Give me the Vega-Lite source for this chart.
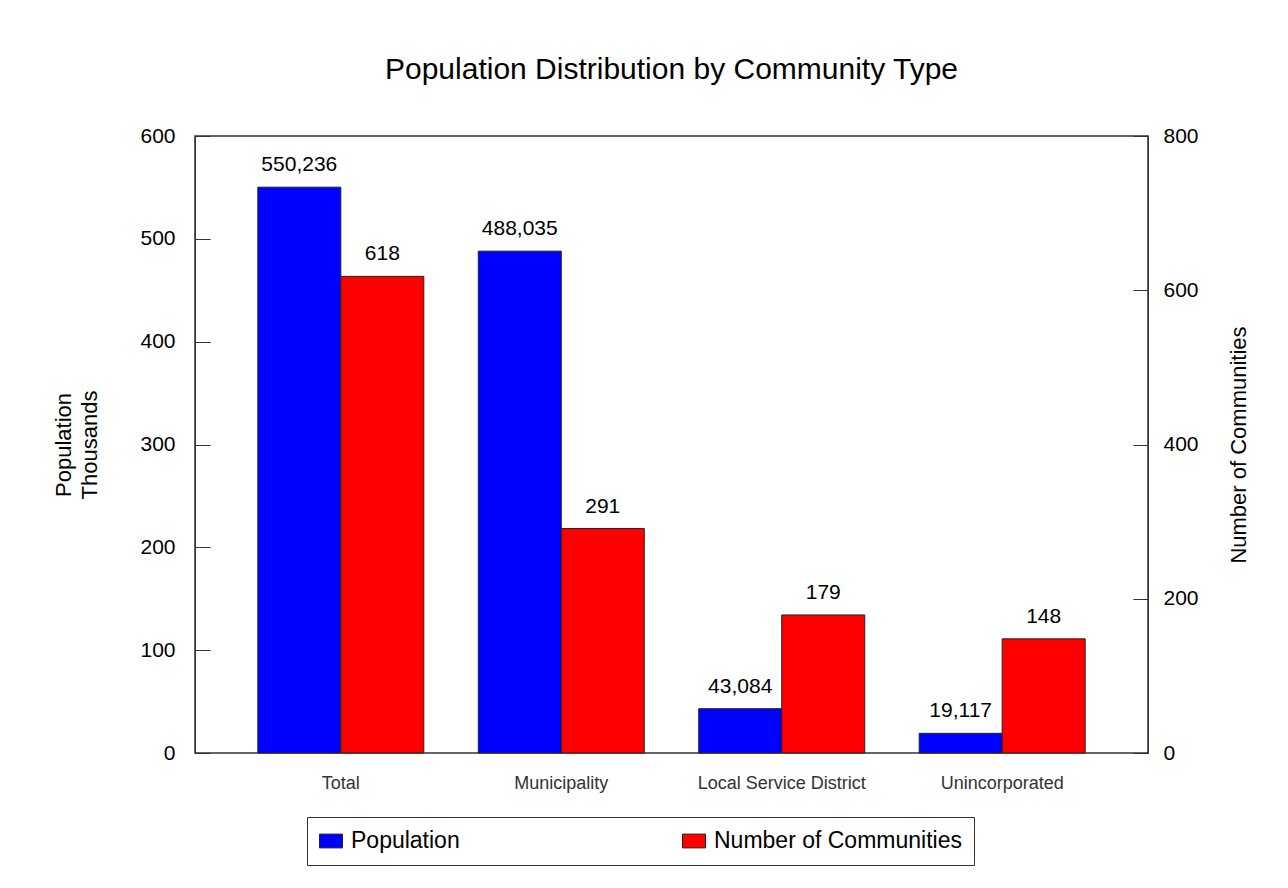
{
  "$schema": "https://vega.github.io/schema/vega-lite/v6.json",
  "width": 953,
  "height": 617,
  "autosize": "none",
  "padding": {"left": 195, "top": 136, "right": 140, "bottom": 135},
  "background": "white",
  "title": {
    "text": "Population Distribution by Community Type",
    "font": "Liberation Sans",
    "fontSize": 30,
    "fontWeight": "normal",
    "color": "black",
    "offset": 40
  },
  "config": {
    "view": {"stroke": "#333", "strokeWidth": 1.5},
    "font": "Liberation Sans"
  },
  "data": {
    "values": [
      {"category": "Total", "series": "Population", "value": 550236},
      {"category": "Municipality", "series": "Population", "value": 488035},
      {"category": "Local Service District", "series": "Population", "value": 43084},
      {"category": "Unincorporated", "series": "Population", "value": 19117},
      {"category": "Total", "series": "Number of Communities", "value": 618},
      {"category": "Municipality", "series": "Number of Communities", "value": 291},
      {"category": "Local Service District", "series": "Number of Communities", "value": 179},
      {"category": "Unincorporated", "series": "Number of Communities", "value": 148}
    ]
  },
  "encoding": {
    "x": {
      "field": "category",
      "type": "nominal",
      "sort": ["Total", "Municipality", "Local Service District", "Unincorporated"],
      "scale": {"paddingInner": 0.247, "paddingOuter": 0.285},
      "axis": {
        "title": null,
        "labelAngle": 0,
        "ticks": false,
        "domain": false,
        "labelFontSize": 18,
        "labelColor": "#333",
        "labelPadding": 21,
        "labelFont": "Liberation Sans"
      }
    },
    "xOffset": {
      "field": "series",
      "type": "nominal",
      "scale": {"domain": ["Population", "Number of Communities"]}
    }
  },
  "layer": [
    {
      "transform": [{"filter": "datum.series === 'Population'"}],
      "encoding": {
        "y": {
          "field": "value",
          "type": "quantitative",
          "scale": {"domain": [0, 600000]},
          "axis": {
            "orient": "left",
            "values": [0, 100000, 200000, 300000, 400000, 500000, 600000],
            "labelExpr": "format(datum.value / 1000, 'd')",
            "grid": false,
            "tickSize": -15,
            "tickColor": "#333",
            "domainColor": "#333",
            "labelFontSize": 21,
            "labelColor": "black",
            "labelPadding": 35,
            "title": ["Population", "Thousands"],
            "titleFontSize": 22,
            "titleFontWeight": "normal",
            "titleColor": "black",
            "titlePadding": 38,
            "titleLineHeight": 26
          }
        }
      },
      "layer": [
        {
          "mark": {"type": "bar", "stroke": "#222", "strokeWidth": 1},
          "encoding": {
            "color": {
              "field": "series",
              "type": "nominal",
              "scale": {"domain": ["Population", "Number of Communities"], "range": ["#0000FF", "#FF0000"]},
              "legend": {
                "orient": "none",
                "legendX": 112,
                "legendY": 681,
                "direction": "horizontal",
                "columns": 2,
                "title": null,
                "padding": 12,
                "strokeColor": "#333",
                "symbolType": "M-1,-0.6H1V0.6H-1Z",
                "symbolSize": 529,
                "symbolStrokeColor": "#222",
                "symbolStrokeWidth": 1,
                "symbolOpacity": 1,
                "labelFontSize": 23,
                "labelColor": "black",
                "labelFont": "Liberation Sans",
                "labelOffset": 8,
                "labelLimit": 400,
                "columnPadding": 220
              }
            }
          }
        },
        {
          "mark": {"type": "text", "baseline": "bottom", "dy": -12, "fontSize": 21, "font": "Liberation Sans"},
          "encoding": {
            "text": {"field": "value", "type": "quantitative", "format": ","},
            "color": {"value": "black"}
          }
        }
      ]
    },
    {
      "transform": [{"filter": "datum.series === 'Number of Communities'"}],
      "encoding": {
        "y": {
          "field": "value",
          "type": "quantitative",
          "scale": {"domain": [0, 800]},
          "axis": {
            "orient": "right",
            "values": [0, 200, 400, 600, 800],
            "grid": false,
            "tickSize": -15,
            "tickColor": "#333",
            "domainColor": "#333",
            "labelFontSize": 21,
            "labelColor": "black",
            "labelPadding": 30,
            "title": "Number of Communities",
            "titleAngle": 270,
            "titleFontSize": 22,
            "titleFontWeight": "normal",
            "titleColor": "black",
            "titlePadding": 52
          }
        }
      },
      "layer": [
        {
          "mark": {"type": "bar", "stroke": "#222", "strokeWidth": 1},
          "encoding": {
            "color": {"field": "series", "type": "nominal"}
          }
        },
        {
          "mark": {"type": "text", "baseline": "bottom", "dy": -12, "fontSize": 21, "font": "Liberation Sans"},
          "encoding": {
            "text": {"field": "value", "type": "quantitative", "format": ","},
            "color": {"value": "black"}
          }
        }
      ]
    }
  ],
  "resolve": {"scale": {"y": "independent"}}
}
